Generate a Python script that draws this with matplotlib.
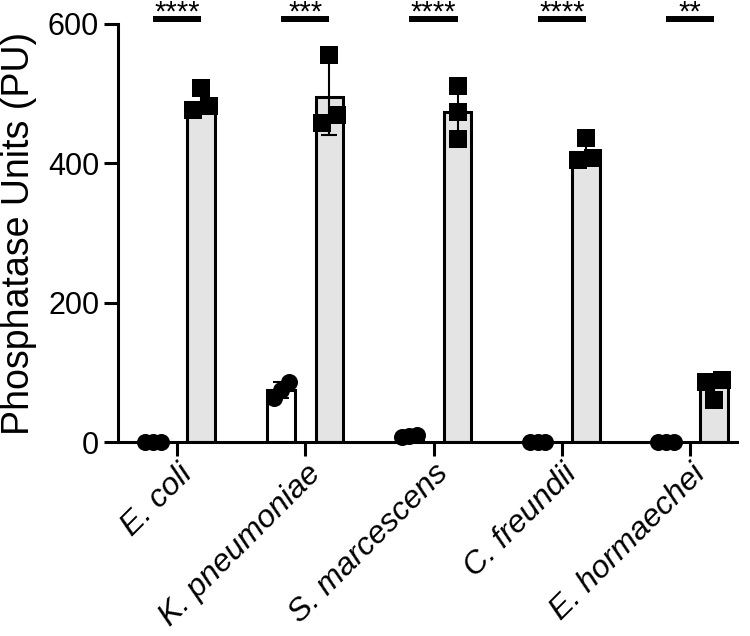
import numpy as np
import matplotlib.pyplot as plt

plt.rcParams['font.family'] = ['Liberation Sans', 'DejaVu Sans']

species = ["E. coli", "K. pneumoniae", "S. marcescens", "C. freundii", "E. hormaechei"]
# three replicates per strain (phosphatase units)
control_pu = [[0, 0, 0], [63, 75, 86], [7, 8, 10], [0, 0, 0], [0, 0, 0]]
treated_pu = [[476, 482, 508], [458, 470, 556], [435, 474, 511], [405, 407, 436], [60, 86, 89]]
stars = ["****", "***", "****", "****", "**"]


def spread(vals, near=24, width=0.12):
    """
    Side-by-side offsets for replicate points that would overlap
    """
    vals = np.sort(np.asarray(vals, float))
    offs = np.zeros(len(vals))
    groups = [[0]]
    for i in range(1, len(vals)):
        if vals[i] - vals[i-1] < near:
            groups[-1].append(i)
        else:
            groups.append([i])
    for g in groups:
        n = len(g)
        if n > 1:
            for k, i in enumerate(g):
                offs[i] = -width/2 + k*width/(n-1)
    return vals, offs


x = np.arange(len(species))
off = 0.1875
w = 0.215
lw = 2.2

fig = plt.figure(figsize=(7.5, 6.36), dpi=100)
ax = fig.add_axes([0.1573, 0.305, 0.8254, 0.6573])

for data, sign, fill, mk in [(control_pu, -1, 'white', 'o'), (treated_pu, 1, '#e4e4e4', 's')]:
    means = [np.mean(v) for v in data]
    sds = [np.std(v, ddof=1) for v in data]
    ax.bar(x + sign*off, means, w, color=fill, edgecolor='black', linewidth=lw, zorder=2)
    ax.errorbar(x + sign*off, means, yerr=sds, fmt='none', ecolor='black',
                elinewidth=1.5, capsize=6, capthick=1.5, zorder=3)
    for i in range(len(species)):
        v, o = spread(data[i])
        ax.scatter(x[i] + sign*off + o, v, s=150, marker=mk, color='black',
                   linewidths=0, zorder=4, clip_on=False)

# significance bars
for i, s in enumerate(stars):
    ax.plot([x[i]-off, x[i]+off], [607, 607], color='black', lw=4.3,
            solid_capstyle='butt', clip_on=False)
    ax.text(x[i], 605, s, ha='center', va='baseline', fontsize=21, clip_on=False)

ax.set_xlim(-0.461, 4.367)
ax.set_ylim(0, 600)
ax.spines['top'].set_visible(False)
ax.spines['right'].set_visible(False)
ax.spines['left'].set_linewidth(lw)
ax.spines['bottom'].set_linewidth(lw)
ax.spines['left'].set_bounds(0, 600)

ax.set_yticks([0, 200, 400, 600])
ax.tick_params(axis='both', width=lw, length=10, labelsize=22)
ax.tick_params(axis='x', pad=2)
ax.set_xticks(x)
ax.set_xticklabels(species, rotation=45, ha='right', rotation_mode='anchor',
                   style='italic', fontsize=23)
ax.set_ylabel("Phosphatase Units (PU)", fontsize=27, labelpad=8)

plt.savefig("out.png", dpi=100)
